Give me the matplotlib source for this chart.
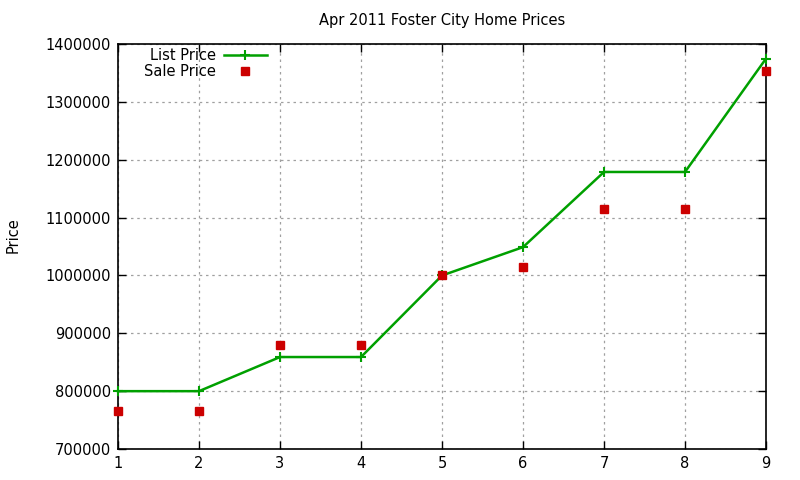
import matplotlib
matplotlib.use("Agg")
import matplotlib.pyplot as plt
from matplotlib.ticker import MultipleLocator

plt.rcParams['font.family'] = ['DejaVu Sans']

homes = [1, 2, 3, 4, 5, 6, 7, 8, 9]
list_price = [800000, 800000, 859000, 859000, 1000000, 1049000, 1179000, 1179000, 1375000]
sale_price = [766000, 766000, 880000, 880000, 1000000, 1015000, 1115000, 1115000, 1353000]

fig = plt.figure(figsize=(8, 4.8), dpi=100)
ax = fig.add_axes([0.1475, 0.0646, 0.81, 0.8434])

ax.plot(homes, list_price, color='#00a000', lw=1.8, marker='+', ms=6.5, mew=1.5,
        label='List Price', clip_on=False, zorder=3)
ax.plot(homes, sale_price, ls='none', color='#cc0000', marker='s', ms=6,
        label='Sale Price', clip_on=False, zorder=4)

ax.set_xlim(1, 9)
ax.set_ylim(700000, 1400000)
ax.xaxis.set_major_locator(MultipleLocator(1))
ax.yaxis.set_major_locator(MultipleLocator(100000))
ax.yaxis.set_major_formatter(matplotlib.ticker.FuncFormatter(lambda v, p: f"{int(v)}"))
ax.tick_params(direction='in', top=True, right=True, length=6, width=1,
               labelsize=10.5, pad=5)
ax.grid(True, color='#a0a0a0', ls=(0, (2, 3)), lw=0.9)
for s in ax.spines.values():
    s.set_linewidth(1.2)

ax.set_title('Apr 2011 Foster City Home Prices', fontsize=10.5, pad=14)
fig.text(0.016, 0.51, 'Price', rotation=90, fontsize=10.5, va='center', ha='center')

leg = ax.legend(loc='upper left', bbox_to_anchor=(0.025, 1.015), frameon=False,
                markerfirst=False, fontsize=10.5, handlelength=3.0, labelspacing=0.05,
                handletextpad=0.5, borderaxespad=0.3)

fig.savefig('out.png', dpi=100)
